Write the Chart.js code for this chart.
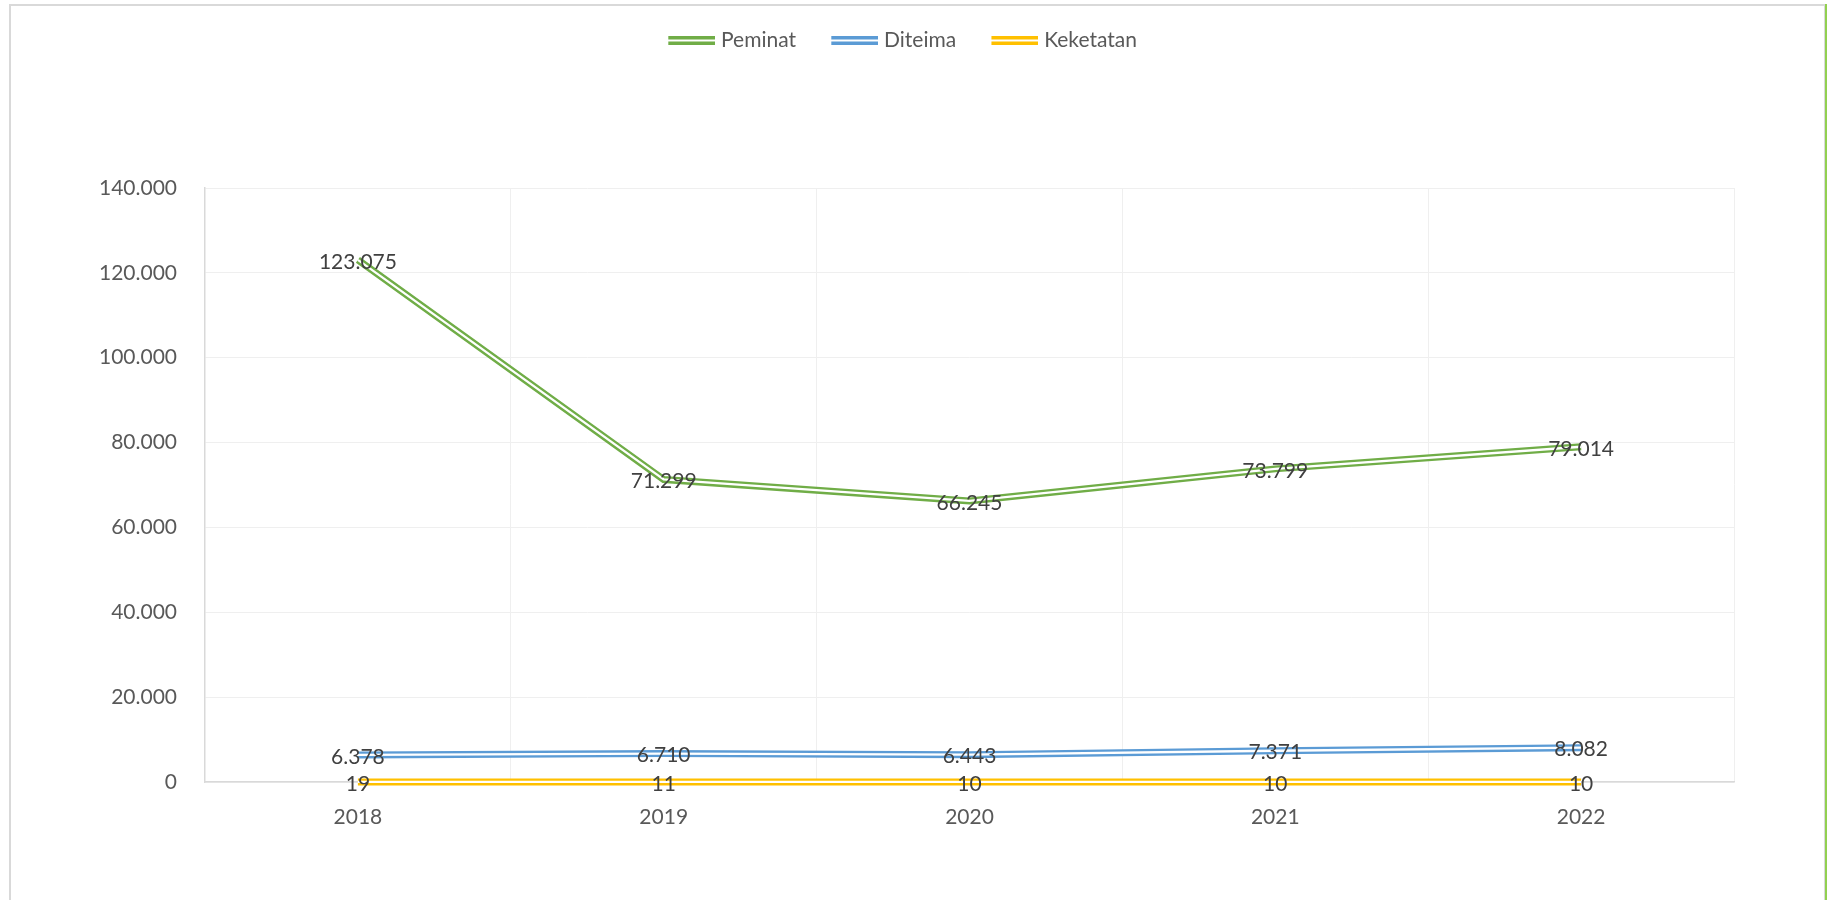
<!DOCTYPE html>
<html>
<head>
<meta charset="utf-8">
<script src="https://cdn.jsdelivr.net/npm/chart.js@4.4.0/dist/chart.umd.min.js"></script>
<style>
    html, body { margin: 0; padding: 0; background: #fff; overflow: hidden; }
    #frame { position: absolute; left: 9px; top: 4px; width: 1813px; height: 1000px; border: 2px solid #D9D9D9; }
    #edge { position: absolute; left: 1825px; top: 4px; width: 2px; height: 900px; background: #92D050; }
    #chart { position: absolute; left: 0; top: 0; }
</style>
</head>
<body>
<div id="frame"></div>
<div id="edge"></div>
<canvas id="chart" width="1831" height="900"></canvas>
<script>
var years = ['2018', '2019', '2020', '2021', '2022'];
var peminat = [123075, 71299, 66245, 73799, 79014];
var diteima = [6378, 6710, 6443, 7371, 8082];
var keketatan = [19, 11, 10, 10, 10];

var seriesNames = ['Peminat', 'Diteima', 'Keketatan'];
var seriesColors = ['#70AD47', '#5B9BD5', '#FFC000'];

var font = {family: 'Lato', size: 21};

// 140000 -> "140.000"
function dots(v) {
    return String(v).replace(/\B(?=(\d{3})+(?!\d))/g, '.');
}

// legend symbol: two thin parallel lines
function doubleLineIcon(color) {
    var c = document.createElement('canvas');
    c.width = 57;
    c.height = 9;
    var g = c.getContext('2d');
    g.fillStyle = color;
    g.fillRect(10, 0, 47, 3.5);
    g.fillRect(10, 5.5, 47, 3.5);
    return c;
}

// white stroke down the middle of each line gives the "double" look
var doubleLine = {
    id: 'doubleLine',
    afterDatasetDraw: function(chart, args) {
        var pts = args.meta.data;
        var ctx = chart.ctx;
        ctx.save();
        ctx.beginPath();
        pts.forEach(function(p, i) {
            if (i === 0) ctx.moveTo(p.x, p.y);
            else ctx.lineTo(p.x, p.y);
        });
        ctx.strokeStyle = '#ffffff';
        ctx.lineWidth = 2.3;
        ctx.stroke();
        ctx.restore();
    }
};

// value labels centred on the points
var valueLabels = {
    id: 'valueLabels',
    afterDatasetsDraw: function(chart) {
        var ctx = chart.ctx;
        ctx.save();
        ctx.font = font.size + 'px ' + font.family;
        ctx.fillStyle = '#404040';
        ctx.textAlign = 'center';
        ctx.textBaseline = 'middle';
        chart.data.datasets.forEach(function(ds, i) {
            chart.getDatasetMeta(i).data.forEach(function(p, j) {
                ctx.fillText(dots(ds.data[j]), p.x, p.y + 2);
            });
        });
        ctx.restore();
    }
};

// leave the empty band between legend and plot
var legendSpace = {
    id: 'legendSpace',
    beforeInit: function(chart) {
        var fit = chart.legend.fit;
        chart.legend.fit = function() {
            fit.call(this);
            this.height = 188;
        };
    }
};

var seriesData = [peminat, diteima, keketatan];

var datasets = seriesNames.map(function(name, i) {
    return {
        label: name,
        data: seriesData[i],
        borderColor: seriesColors[i],
        backgroundColor: seriesColors[i],
        borderWidth: 7,
        pointRadius: 0,
        pointHoverRadius: 0,
        pointStyle: doubleLineIcon(seriesColors[i]),
        tension: 0,
        fill: false,
        clip: false
    };
});

new Chart(document.getElementById('chart'), {
    type: 'line',
    data: {
        labels: years,
        datasets: datasets
    },
    plugins: [legendSpace, doubleLine, valueLabels],
    options: {
        responsive: false,
        animation: false,
        layout: {
            padding: {left: 66, right: 97, top: 0, bottom: 58}
        },
        plugins: {
            tooltip: {enabled: false},
            legend: {
                position: 'top',
                labels: {
                    usePointStyle: true,
                    pointStyleWidth: 47.5,
                    padding: 30,
                    color: '#595959',
                    font: font
                }
            }
        },
        scales: {
            x: {
                offset: true,
                grid: {offset: true, color: '#EFEFEF', drawTicks: false},
                border: {color: '#D9D9D9', width: 1.5},
                ticks: {color: '#595959', font: font, padding: 23},
                afterFit: function(s) { s.height = 60; }
            },
            y: {
                min: 0,
                max: 140000,
                grid: {color: '#EFEFEF', drawTicks: false},
                border: {color: '#D9D9D9', width: 1.5},
                ticks: {
                    stepSize: 20000,
                    color: '#595959',
                    font: font,
                    padding: 28,
                    callback: function(v) { return dots(v); }
                },
                afterFit: function(s) { s.width = 139; }
            }
        }
    }
});
</script>
</body>
</html>
